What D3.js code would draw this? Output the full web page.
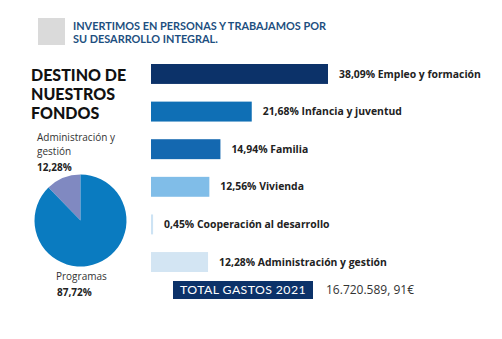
<!DOCTYPE html>
<html>
<head>
<meta charset="utf-8">
<script src="https://cdn.jsdelivr.net/npm/d3@7"></script>
<style>
  body { margin: 0; background: #fff; }
  svg { display: block; }
</style>
</head>
<body>
<div class="container"></div>
<script>
// destino de fondos 2021
const categories = [
  "Empleo y formación",
  "Infancia y juventud",
  "Familia",
  "Vivienda",
  "Cooperación al desarrollo",
  "Administración y gestión"
];
const shares = [38.09, 21.68, 14.94, 12.56, 0.45, 12.28];
const barColors = ["#0c3269", "#0f6fb5", "#1468b0", "#80bde8", "#cde3f4", "#d3e5f3"];

const pieLabels = ["Administración y gestión", "Programas"];
const pieValues = [12.28, 87.72];
const pieColors = ["#8089c1", "#0a7bc0"];

const totalLabel = "TOTAL GASTOS 2021";
const totalValue = "16.720.589, 91€";

const width = 502;
const height = 339;
const fmt = v => d3.format(".2f")(v).replace(".", ",") + "%";

const svg = d3
  .select(".container")
  .append("svg")
  .attr("width", width)
  .attr("height", height)
  .attr("font-family", "'Open Sans', sans-serif");

// cabecera
svg.append("rect")
  .attr("x", 38).attr("y", 18)
  .attr("width", 27).attr("height", 27)
  .attr("fill", "#dadada");

svg.append("g")
  .attr("fill", "#1d4f80")
  .attr("font-family", "Lato, sans-serif")
  .attr("font-weight", 700)
  .attr("font-size", 10.9)
  .selectAll("text")
  .data(["INVERTIMOS EN PERSONAS Y TRABAJAMOS POR", "SU DESARROLLO INTEGRAL."])
  .join("text")
  .attr("x", 73)
  .attr("y", (d, i) => 29.5 + i * 13.5)
  .text(d => d);

// titulo
svg.append("g")
  .attr("fill", "#111")
  .attr("font-family", "Lato, sans-serif")
  .attr("font-weight", 900)
  .attr("font-size", 16)
  .selectAll("text")
  .data(["DESTINO DE", "NUESTROS", "FONDOS"])
  .join("text")
  .attr("x", 31)
  .attr("y", (d, i) => 81 + i * 19)
  .text(d => d);

// barras
const x = d3.scaleLinear().domain([0, 38.09]).range([0, 177]);
const y = d3.scaleBand().domain(categories).range([64, 272]).paddingInner(0.47).paddingOuter(0);

const bars = svg.append("g")
  .selectAll("g")
  .data(categories)
  .join("g");

bars.append("rect")
  .attr("x", 151)
  .attr("y", d => y(d))
  .attr("width", (d, i) => x(shares[i]))
  .attr("height", y.bandwidth())
  .attr("fill", (d, i) => barColors[i]);

bars.append("text")
  .attr("x", (d, i) => 151 + x(shares[i]) + 11)
  .attr("y", d => y(d) + y.bandwidth() / 2)
  .attr("dy", "0.35em")
  .attr("font-size", 10.4)
  .attr("font-weight", 700)
  .attr("fill", "#222")
  .text((d, i) => fmt(shares[i]) + " " + d);

// total
svg.append("rect")
  .attr("x", 173).attr("y", 281)
  .attr("width", 140).attr("height", 18)
  .attr("fill", "#0c3269");

svg.append("text")
  .attr("x", 243).attr("y", 290)
  .attr("dy", "0.36em")
  .attr("text-anchor", "middle")
  .attr("font-family", "Lato, sans-serif")
  .attr("font-size", 12.3)
  .attr("fill", "#fff")
  .attr("letter-spacing", 0.4)
  .text(totalLabel);

svg.append("text")
  .attr("x", 326).attr("y", 290)
  .attr("dy", "0.36em")
  .attr("font-size", 12)
  .attr("fill", "#333")
  .text(totalValue);

// tarta: el primer sector gira en sentido antihorario desde las 12
const pie = d3.pie().sort(null).startAngle(2 * Math.PI).endAngle(0);
const arc = d3.arc().innerRadius(0).outerRadius(46);
const arcs = pie(pieValues);

svg.append("g")
  .attr("transform", "translate(80.5,220.5)")
  .selectAll("path")
  .data(arcs)
  .join("path")
  .attr("fill", (d, i) => pieColors[i])
  .attr("d", arc);

const pieText = svg.append("g").attr("font-size", 10).attr("fill", "#333");
pieText.append("text").attr("x", 37).attr("y", 141).text("Administración y");
pieText.append("text").attr("x", 37).attr("y", 155).text("gestión");
pieText.append("text").attr("x", 37).attr("y", 171).attr("font-weight", 700).attr("fill", "#222").text(fmt(pieValues[0]));
pieText.append("text").attr("x", 56).attr("y", 280).text(pieLabels[1]);
pieText.append("text").attr("x", 57).attr("y", 296).attr("font-weight", 700).attr("fill", "#222").text(fmt(pieValues[1]));
</script>
</body>
</html>
